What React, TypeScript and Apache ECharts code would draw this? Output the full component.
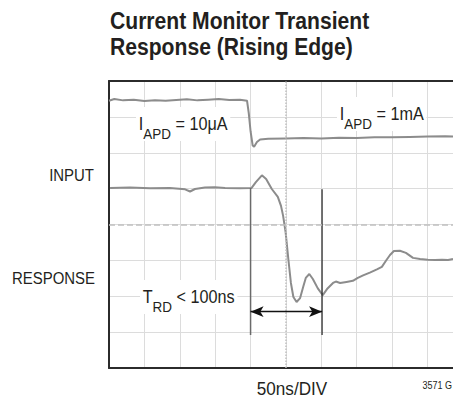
import React, { useEffect, useRef } from "react";
import * as echarts from "echarts";

// Oscilloscope screen: x in divisions (50ns/DIV), y in divisions (8 vertical divisions)
const X_MAX = 9.72; // right edge of the visible (cropped) screen, in divisions

const apdTrace: [number, number][] = [
  [0, 7.45], [0.15, 7.5], [0.4, 7.46], [0.7, 7.48], [1.0, 7.44], [1.3, 7.46], [1.6, 7.45],
  [1.9, 7.47], [2.2, 7.49], [2.5, 7.46], [2.8, 7.48], [3.1, 7.5], [3.4, 7.47], [3.7, 7.48],
  [3.9, 7.45], [3.95, 7.1], [4.0, 6.6], [4.06, 6.2], [4.1, 6.17], [4.18, 6.3], [4.27, 6.37],
  [4.5, 6.39], [5.0, 6.4], [5.5, 6.41], [6.0, 6.4], [6.5, 6.42], [7.0, 6.41], [7.5, 6.43],
  [8.0, 6.43], [8.5, 6.44], [9.0, 6.45], [9.5, 6.46], [9.72, 6.45],
];

const responseTrace: [number, number][] = [
  [0.03, 5.02], [0.59, 5.03], [1.16, 5.01], [1.72, 5.02], [2.15, 4.98], [2.29, 4.92],
  [2.43, 4.99], [2.71, 5.03], [2.99, 5.04], [3.28, 5.02], [3.7, 5.01], [4.03, 5.02],
  [4.15, 5.18], [4.32, 5.37], [4.44, 5.27], [4.6, 4.99], [4.77, 4.77], [4.86, 4.52],
  [4.92, 4.24], [4.99, 3.79], [5.07, 3.01], [5.14, 2.37], [5.21, 1.98], [5.3, 1.84],
  [5.4, 1.95], [5.49, 2.27], [5.56, 2.51], [5.66, 2.62], [5.76, 2.48], [5.9, 2.22],
  [6.04, 2.03], [6.16, 2.2], [6.33, 2.37], [6.41, 2.41], [6.53, 2.37], [6.71, 2.4],
  [6.89, 2.43], [7.03, 2.51], [7.18, 2.58], [7.37, 2.66], [7.57, 2.75], [7.71, 2.82],
  [7.84, 3.01], [7.94, 3.15], [8.05, 3.26], [8.22, 3.27], [8.39, 3.21], [8.59, 3.07],
  [8.79, 3.04], [9.01, 3.02], [9.21, 3.01], [9.41, 3.02], [9.58, 3.01], [9.72, 3.04],
];

const startMarker: [number, number][] = [[4.0, 5.02], [4.0, 0.92]];
const endMarker: [number, number][] = [[6.02, 4.98], [6.02, 0.92]];
const arrowSpan: [number, number][] = [[4.0, 1.57], [6.02, 1.57]];

const titleText = "Current Monitor Transient\nResponse (Rising Edge)";
const apdLowLabel = "{m|I}{s|APD}{m| = 10μA}";
const apdHighLabel = "{m|I}{s|APD}{m| = 1mA}";
const trdLabel = "{m|T}{s|RD}{m| < 100ns}";
const inputLabel = "INPUT";
const responseLabel = "RESPONSE";
const xLabel = "50ns/DIV";
const figLabel = "3571 G";

const FONT = "'Liberation Sans', Arial, sans-serif";
const INK = "#231f20";
const NARROW = 0.88;

const rich = {
  m: { fontSize: 18, fontFamily: FONT, lineHeight: 34, verticalAlign: "middle", fill: INK },
  s: { fontSize: 15, fontFamily: FONT, lineHeight: 34, verticalAlign: "bottom", fill: INK },
};

export default function App() {
  const ref = useRef<HTMLDivElement>(null);
  useEffect(() => {
    if (!ref.current) return;
    const chart = echarts.init(ref.current, undefined, { renderer: "svg" });
    const axisLine = { show: true, onZero: false, lineStyle: { color: "#2b2b2b", width: 2 } };
    const gridLine = { show: true, lineStyle: { color: "#dcdcdc", width: 1 } };
    chart.setOption({
      animation: false,
      backgroundColor: "#ffffff",
      grid: { left: 109, top: 81, width: 344, height: 287 },
      xAxis: [
        {
          type: "value", min: 0, max: X_MAX, interval: 1, position: "bottom",
          axisLine, axisTick: { show: false }, axisLabel: { show: false },
          splitLine: gridLine,
        },
        {
          type: "value", min: 0, max: X_MAX, interval: 1, position: "top",
          axisLine, axisTick: { show: false }, axisLabel: { show: false },
          splitLine: { show: false },
        },
      ],
      yAxis: {
        type: "value", min: 0, max: 8, interval: 1,
        axisLine, axisTick: { show: false }, axisLabel: { show: false },
        splitLine: gridLine,
      },
      series: [
        {
          type: "line", data: apdTrace, showSymbol: false, silent: true,
          lineStyle: { color: "#8c8c8c", width: 2 },
          markLine: {
            silent: true, symbol: "none", label: { show: false },
            data: [
              { xAxis: 5, lineStyle: { color: "#c0c0c0", type: "dotted", width: 1.5 } },
              { yAxis: 4, lineStyle: { color: "#c0c0c0", type: "dashed", width: 1.5 } },
            ],
          },
        },
        {
          type: "line", data: responseTrace, showSymbol: false, silent: true,
          lineStyle: { color: "#8c8c8c", width: 2 },
        },
        {
          type: "line", data: startMarker, showSymbol: false, silent: true,
          lineStyle: { color: "#6a6a6a", width: 1.5 },
        },
        {
          type: "line", data: endMarker, showSymbol: false, silent: true,
          lineStyle: { color: "#1e1e1e", width: 1.2 },
        },
        {
          type: "line", data: [], showSymbol: false, silent: true,
          markLine: {
            silent: true, symbol: ["arrow", "arrow"], symbolSize: [8, 13], label: { show: false },
            lineStyle: { color: "#111", width: 1.3, type: "solid" },
            data: [[{ coord: arrowSpan[0] }, { coord: arrowSpan[1] }]],
          },
        },
      ],
      graphic: [
        {
          type: "text", x: 110, y: 8, z: 100, scaleX: NARROW,
          style: { text: titleText, fontSize: 24, fontWeight: "bold", fontFamily: FONT, lineHeight: 26, fill: INK },
        },
        {
          type: "text", x: 136, y: 107, z: 100, scaleX: 0.9,
          style: { text: apdLowLabel, rich, backgroundColor: "#fff", padding: [0, 3] },
        },
        {
          type: "text", x: 337, y: 97, z: 100, scaleX: 0.9,
          style: { text: apdHighLabel, rich, backgroundColor: "#fff", padding: [0, 3] },
        },
        {
          type: "text", x: 140, y: 280, z: 100, scaleX: 0.9,
          style: { text: trdLabel, rich, backgroundColor: "#fff", padding: [0, 3] },
        },
        {
          type: "text", x: 94, y: 175, z: 100, scaleX: NARROW,
          style: { text: inputLabel, fontSize: 17, fontFamily: FONT, fill: INK, align: "right", verticalAlign: "middle" },
        },
        {
          type: "text", x: 95, y: 278, z: 100, scaleX: NARROW,
          style: { text: responseLabel, fontSize: 17, fontFamily: FONT, fill: INK, align: "right", verticalAlign: "middle" },
        },
        {
          type: "text", x: 292, y: 389, z: 100, scaleX: 0.9,
          style: { text: xLabel, fontSize: 19, fontFamily: FONT, fill: INK, align: "center", verticalAlign: "middle" },
        },
        {
          type: "text", x: 452, y: 385.5, z: 100, scaleX: 0.9,
          style: { text: figLabel, fontSize: 10, fontFamily: FONT, fill: INK, align: "right", verticalAlign: "middle" },
        },
      ],
    });
    return () => chart.dispose();
  }, []);
  return (
    <div
      ref={ref}
      style={{ position: "fixed", left: 0, top: 0, width: 453, height: 401, background: "#fff" }}
    />
  );
}
